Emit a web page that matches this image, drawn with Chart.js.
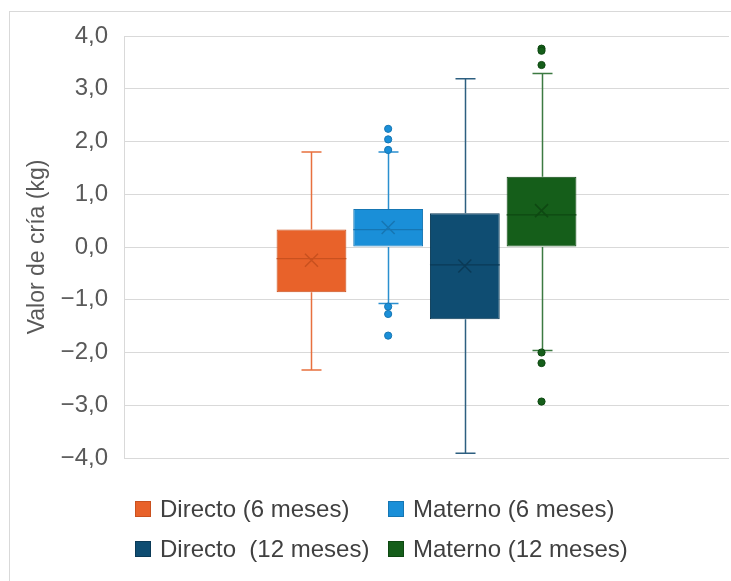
<!DOCTYPE html>
<html>
<head>
<meta charset="utf-8">
<script src="https://cdn.jsdelivr.net/npm/chart.js@4.4.0/dist/chart.umd.min.js"></script>
<style>
  html, body { margin: 0; padding: 0; background: #ffffff; }
  #wrap { position: relative; width: 731px; height: 581px; overflow: hidden; background: #fff; }
  #frame { position: absolute; left: 9px; top: 11px; width: 900px; height: 800px; border: 1px solid #D9D9D9; box-sizing: border-box; }
  canvas { position: absolute; left: 0; top: 0; }
  .leg { position: absolute; font-family: "Liberation Sans", Arial, sans-serif; font-size: 24px; line-height: 24px; color: #404040; white-space: pre; }
  .sw { position: absolute; width: 16px; height: 16px; box-sizing: border-box; }
</style>
</head>
<body>
<div id="wrap">
  <div id="frame"></div>
  <canvas id="c" width="731" height="581"></canvas>
  <div id="legend"></div>
</div>
<script>
// ---- data ----
const seriesLabels = ['Directo (6 meses)', 'Materno (6 meses)', 'Directo  (12 meses)', 'Materno (12 meses)'];
const whiskerMin = [-2.33, -1.07, -3.91, -1.96];
const quartile1  = [-0.86,  0.00, -1.37,  0.00];
const medians    = [-0.22,  0.33, -0.34,  0.61];
const quartile3  = [ 0.33,  0.72,  0.64,  1.33];
const whiskerMax = [ 1.80,  1.80,  3.19,  3.29];
const means      = [-0.25,  0.37, -0.36,  0.69];
const outliersDirecto6  = [];
const outliersMaterno6  = [2.24, 2.04, 1.84, -1.13, -1.27, -1.68];
const outliersDirecto12 = [];
const outliersMaterno12 = [3.76, 3.72, 3.45, -2.00, -2.20, -2.93];
const outliers = [outliersDirecto6, outliersMaterno6, outliersDirecto12, outliersMaterno12];
const yTickValues = [-4, -3, -2, -1, 0, 1, 2, 3, 4];
const yTickLabels = ['\u22124,0', '\u22123,0', '\u22122,0', '\u22121,0', '0,0', '1,0', '2,0', '3,0', '4,0'];
const axisTitle = 'Valor de cría (kg)';

// ---- styles ----
const fillColors   = ['#E8622A', '#1A8FD8', '#0F4D72', '#155E1A'];
const borderColors = ['#C9511F', '#1676B3', '#0B3A57', '#0E4812'];
const whiskerColors = ['#E8703E', '#2A8FCF', '#2D5F80', '#3C7A42'];
const FONT = '"Liberation Sans", Arial, sans-serif';

const datasets = seriesLabels.map((lab, i) => ({
  label: lab,
  data: [[quartile1[i], quartile3[i]]],
  backgroundColor: fillColors[i],
  borderColor: borderColors[i],
  borderWidth: 1,
  borderSkipped: false,
  categoryPercentage: 0.507,
  barPercentage: 0.91
}));

const boxExtras = {
  id: 'boxExtras',
  afterDatasetsDraw(chart) {
    const ctx = chart.ctx;
    const y = chart.scales.y;
    ctx.save();
    chart.data.datasets.forEach((ds, i) => {
      const bar = chart.getDatasetMeta(i).data[0];
      const cx = Math.round(bar.x) + 0.5;
      const half = bar.width / 2;
      const yMin = y.getPixelForValue(whiskerMin[i]);
      const yMax = y.getPixelForValue(whiskerMax[i]);
      const yQ1 = y.getPixelForValue(quartile1[i]);
      const yQ3 = y.getPixelForValue(quartile3[i]);
      const yMed = y.getPixelForValue(medians[i]);
      const yMean = y.getPixelForValue(means[i]);
      // whiskers
      ctx.strokeStyle = whiskerColors[i];
      ctx.lineWidth = 1.5;
      ctx.beginPath();
      ctx.moveTo(cx, yQ3); ctx.lineTo(cx, yMax);
      ctx.moveTo(cx, yQ1); ctx.lineTo(cx, yMin);
      ctx.moveTo(cx - 10, yMax); ctx.lineTo(cx + 10, yMax);
      ctx.moveTo(cx - 10, yMin); ctx.lineTo(cx + 10, yMin);
      ctx.stroke();
      // median
      ctx.strokeStyle = borderColors[i];
      ctx.lineWidth = 1.2;
      ctx.beginPath();
      ctx.moveTo(bar.x - half, yMed); ctx.lineTo(bar.x + half, yMed);
      ctx.stroke();
      // mean X
      const s = 6.5;
      ctx.lineWidth = 1.5;
      ctx.beginPath();
      ctx.moveTo(bar.x - s, yMean - s); ctx.lineTo(bar.x + s, yMean + s);
      ctx.moveTo(bar.x - s, yMean + s); ctx.lineTo(bar.x + s, yMean - s);
      ctx.stroke();
      // outliers
      ctx.fillStyle = fillColors[i];
      ctx.strokeStyle = borderColors[i];
      ctx.lineWidth = 1;
      outliers[i].forEach(v => {
        ctx.beginPath();
        ctx.arc(bar.x, y.getPixelForValue(v), 3.6, 0, Math.PI * 2);
        ctx.fill();
        ctx.stroke();
      });
    });
    ctx.restore();
  }
};

new Chart(document.getElementById('c'), {
  type: 'bar',
  data: { labels: [''], datasets },
  options: {
    responsive: false,
    animation: false,
    devicePixelRatio: 1,
    layout: { padding: { left: 20, top: 36, right: 2, bottom: 123 } },
    plugins: { legend: { display: false }, tooltip: { enabled: false } },
    scales: {
      x: { display: false, grouped: true },
      y: {
        min: -4, max: 4,
        afterFit(scale) { scale.width = 124 - 20; },
        afterBuildTicks(scale) { scale.ticks = yTickValues.map(v => ({ value: v })); },
        ticks: {
          padding: 16,
          color: '#595959',
          font: { family: FONT, size: 24 },
          callback: (v) => yTickLabels[yTickValues.indexOf(v)]
        },
        grid: { color: '#D9D9D9', lineWidth: 1, drawTicks: false },
        border: { display: true, color: '#D9D9D9' },
        title: {
          display: true, text: axisTitle, color: '#595959',
          font: { family: FONT, size: 23 }, padding: { top: 4, bottom: 0 }
        }
      }
    }
  },
  plugins: [boxExtras]
});

// ---- HTML legend built from the series arrays ----
const legend = document.getElementById('legend');
const colX = [135, 388];
const rowY = [509, 549];
seriesLabels.forEach((lab, i) => {
  const col = i % 2, row = Math.floor(i / 2);
  const sw = document.createElement('div');
  sw.className = 'sw';
  sw.style.left = colX[col] + 'px';
  sw.style.top = (rowY[row] - 8) + 'px';
  sw.style.background = fillColors[i];
  sw.style.border = '1px solid ' + borderColors[i];
  legend.appendChild(sw);
  const t = document.createElement('div');
  t.className = 'leg';
  t.textContent = lab;
  t.style.left = (colX[col] + 25) + 'px';
  t.style.top = (rowY[row] - 12) + 'px';
  legend.appendChild(t);
});
</script>
</body>
</html>
